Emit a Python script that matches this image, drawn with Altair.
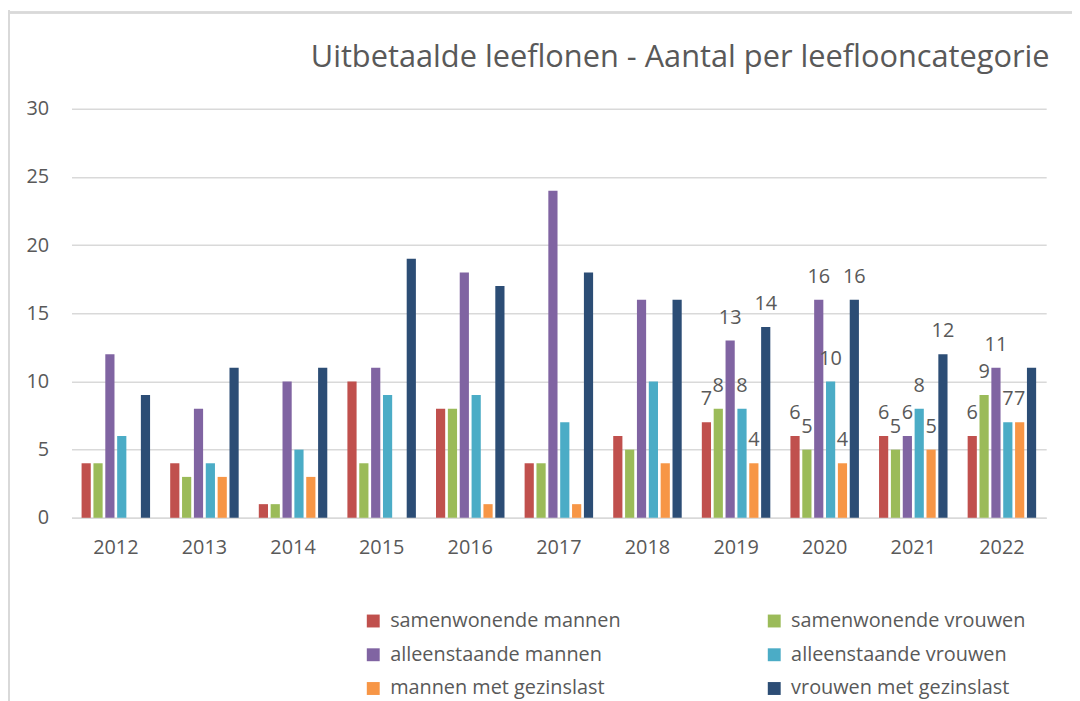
import altair as alt
import pandas as pd

years = ["2012", "2013", "2014", "2015", "2016", "2017", "2018", "2019", "2020", "2021", "2022"]
series = [
    "samenwonende mannen",
    "samenwonende vrouwen",
    "alleenstaande mannen",
    "alleenstaande vrouwen",
    "mannen met gezinslast",
    "vrouwen met gezinslast",
]
samenwonende_mannen = [4, 4, 1, 10, 8, 4, 6, 7, 6, 6, 6]
samenwonende_vrouwen = [4, 3, 1, 4, 8, 4, 5, 8, 5, 5, 9]
alleenstaande_mannen = [12, 8, 10, 11, 18, 24, 16, 13, 16, 6, 11]
alleenstaande_vrouwen = [6, 4, 5, 9, 9, 7, 10, 8, 10, 8, 7]
mannen_met_gezinslast = [0, 3, 3, 0, 1, 1, 4, 4, 4, 5, 7]
vrouwen_met_gezinslast = [9, 11, 11, 19, 17, 18, 16, 14, 16, 12, 11]
colors = ["#C0504D", "#9BBB59", "#8064A2", "#4BACC6", "#F79646", "#2C4D75"]
labelled_years = ["2019", "2020", "2021", "2022"]
unlabelled = [("2022", "vrouwen met gezinslast")]
title_text = "Uitbetaalde leeflonen - Aantal per leeflooncategorie"

values = [samenwonende_mannen, samenwonende_vrouwen, alleenstaande_mannen,
          alleenstaande_vrouwen, mannen_met_gezinslast, vrouwen_met_gezinslast]

rows = []
for s, vals in zip(series, values):
    for y, v in zip(years, vals):
        show = y in labelled_years and (y, s) not in unlabelled
        rows.append({"jaar": y, "categorie": s, "aantal": v,
                     "label": str(v) if show else ""})
df = pd.DataFrame(rows)

# legend fills column by column: order the colour domain so that the
# reference's row-wise layout appears
legend_order = [0, 2, 4, 1, 3, 5]
legend_domain = [series[i] for i in legend_order]
legend_range = [colors[i] for i in legend_order]

FONT = "Open Sans"
TXT = "#595959"
GRID = "#D9D9D9"

x = alt.X("jaar:N", sort=years, title=None,
          scale=alt.Scale(paddingInner=0.227, paddingOuter=0.1135),
          axis=alt.Axis(labelAngle=0, labelFontSize=20, labelColor=TXT, labelFont=FONT,
                        labelPadding=20, ticks=False, domainColor=GRID, domainWidth=1.5))
xo = alt.XOffset("categorie:N", sort=series,
                 scale=alt.Scale(paddingInner=0.225, paddingOuter=0))
y = alt.Y("aantal:Q", title=None,
          scale=alt.Scale(domain=[0, 30], nice=False),
          axis=alt.Axis(values=[0, 5, 10, 15, 20, 25, 30], labelFontSize=20, labelColor=TXT,
                        labelFont=FONT, labelPadding=23, ticks=False, domain=False,
                        gridColor=GRID, gridWidth=1.5))

bars = alt.Chart(df).mark_bar().encode(
    x=x, xOffset=xo, y=y,
    color=alt.Color("categorie:N",
                    scale=alt.Scale(domain=legend_domain, range=legend_range),
                    legend=alt.Legend(title=None, orient="none", legendX=294, legendY=506,
                                      columns=2, symbolType="square", symbolSize=169,
                                      symbolStrokeWidth=0, labelFontSize=20, labelFont=FONT,
                                      labelColor=TXT, labelOffset=7, rowPadding=14,
                                      columnPadding=144, labelLimit=400)),
)

labels = alt.Chart(df).mark_text(baseline="alphabetic", dy=-17, fontSize=20, font=FONT,
                                 color=TXT).encode(
    x=x, xOffset=xo, y=y, text="label:N"
)

title = alt.Chart(pd.DataFrame({"t": [title_text]})).mark_text(
    align="left", baseline="alphabetic", fontSize=31, font=FONT, color=TXT
).encode(x=alt.value(241), y=alt.value(-42), text="t:N")

border_v = alt.Chart(df).mark_rule(color=GRID, strokeWidth=1.5).encode(
    x=alt.value(-63), y=alt.value(-99), y2=alt.value(600)
)
border_h = alt.Chart(df).mark_rule(color=GRID, strokeWidth=1.5).encode(
    x=alt.value(-63), x2=alt.value(1010), y=alt.value(-97)
)

chart = alt.layer(border_v, border_h, bars, labels, title).properties(
    width=982, height=412,
    autosize=alt.AutoSizeParams(type="none"),
    padding={"left": 64, "top": 99, "right": 26, "bottom": 186},
).configure_view(stroke=None).configure_axis(labelFont=FONT)

chart.save("out.html", embed_options={"renderer": "svg", "actions": False})
